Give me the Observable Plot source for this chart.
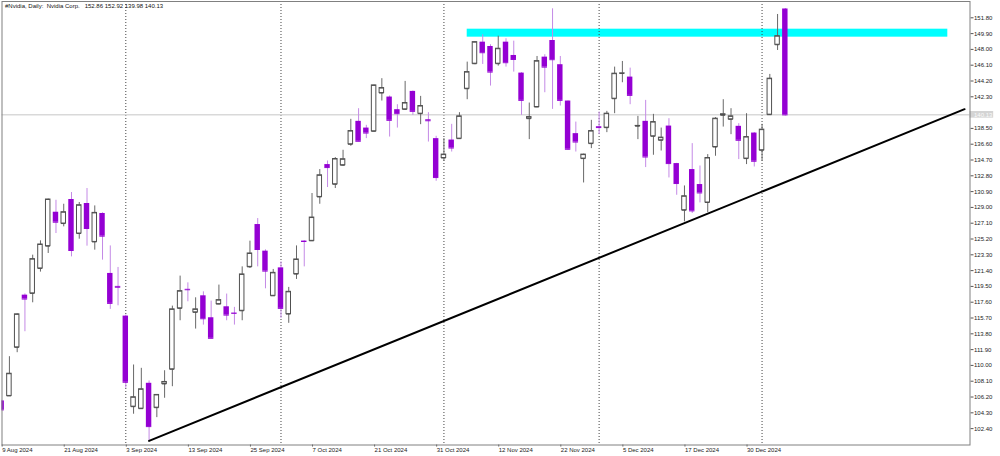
<!DOCTYPE html>
<html><head><meta charset="utf-8">
<script src="https://cdn.jsdelivr.net/npm/d3@7"></script>
<script src="https://cdn.jsdelivr.net/npm/@observablehq/plot@0.6"></script>
<style>
html,body{margin:0;padding:0;background:#fff;overflow:hidden;}
#chart svg{display:block;}
</style></head><body><div id="chart"></div>
<script>
// ---- data ----
const title = "#Nvidia, Daily:\u00a0\u00a0Nvidia Corp.\u00a0\u00a0\u00a0152.86 152.92 139.98 140.13";
const openP = [105.73,106.33,112.17,118.45,118.66,121.66,124.34,128.42,127.06,129.95,
  125.86,129.47,124.85,128.27,121.06,119.5,115.93,105.04,104.8,107.85,
  104.92,107.77,109.53,116.86,119.15,116.38,118.37,115.73,117.37,117.05,
  116.3,116.57,121.85,126.94,123.74,118.37,121.73,116.17,120.98,124.95,
  124.98,130.26,134.15,131.78,134.07,136.59,139.35,138.54,138.15,142.75,
  142.27,140.75,140.79,142.95,140.27,139.54,137.27,134.94,137.1,137.27,
  143.27,146.28,148.87,148.35,146.28,148.87,147.27,145.15,139.67,141.07,
  147.07,149.07,146.16,141.79,137.87,134.87,136.67,138.7,138.59,142.07,
  145.1,144.67,138.78,139.35,137.55,137.07,138.78,134.27,128.66,133.55,
  131.75,129.59,136.26,140.08,139.59,138.75,134.87,137.94,135.87,140.15,
  148.56,152.86];
const highP = [105.8,111.05,116.2,118.6,123.26,124.98,130.0,129.86,129.38,130.79,
  129.59,131.27,129.18,128.35,124.37,121.78,116.05,110.05,109.65,108.13,
  106.5,109.36,117.13,120.74,119.93,118.13,118.85,117.73,119.66,118.58,
  116.98,121.85,124.94,127.66,123.9,121.54,122.45,119.38,124.37,125.0,
  130.67,133.55,134.58,134.99,135.87,139.59,140.87,138.87,143.7,144.48,
  142.4,141.35,144.15,143.0,142.35,140.39,137.55,137.27,138.99,140.39,
  146.47,148.9,149.76,148.56,149.59,149.28,148.99,145.2,141.55,147.15,
  147.36,152.88,147.15,141.8,139.26,135.4,139.47,140.47,140.55,145.87,
  146.55,145.75,139.95,141.87,140.19,138.54,139.67,134.3,131.58,136.67,
  133.98,135.35,139.79,141.95,140.87,139.07,140.27,138.0,138.99,144.99,
  152.2,152.92];
const lowP = [104.6,106.3,111.53,114.05,117.53,121.22,123.46,125.86,126.66,123.05,
  125.18,124.34,123.86,122.66,116.74,117.17,107.25,104.13,104.75,100.9,
  103.72,106.05,107.44,115.37,117.65,114.37,114.85,113.2,117.3,115.37,
  114.85,115.37,121.66,121.85,119.21,118.3,115.66,115.06,120.34,121.85,
  124.9,129.38,131.39,131.27,133.95,136.35,136.9,137.27,138.1,141.79,
  137.46,138.54,140.67,140.07,138.95,136.86,132.14,134.54,135.66,137.2,
  141.95,146.16,146.19,143.59,145.99,145.87,145.27,140.07,137.15,141.0,
  142.79,140.79,141.19,135.87,135.66,131.94,136.07,137.75,137.99,140.27,
  143.99,141.35,137.15,133.79,135.27,135.78,132.54,130.46,127.26,128.27,
  129.54,128.38,135.15,138.66,137.75,134.75,134.15,133.86,134.55,140.1,
  147.87,139.98];
const closeP = [104.65,109.0,116.14,117.98,122.78,124.54,129.95,127.22,128.42,123.82,
  129.26,126.46,128.34,125.54,117.46,119.4,107.97,106.17,107.13,102.64,
  106.45,108.01,116.74,118.93,119.1,116.74,115.61,113.26,117.85,116.05,
  116.26,120.94,123.46,123.94,121.34,121.13,116.86,118.85,122.74,124.9,
  127.78,132.86,133.79,134.82,134.79,138.18,136.95,137.94,143.67,143.35,
  139.47,140.27,141.55,140.55,141.19,139.42,132.59,135.35,136.14,139.95,
  145.27,148.87,147.6,145.27,148.08,146.4,146.79,141.87,139.86,146.59,
  145.87,146.76,141.87,135.99,136.86,135.35,138.18,138.6,140.27,145.08,
  145.12,142.47,138.8,135.06,139.26,137.39,134.27,131.87,130.34,128.58,
  130.74,134.94,139.67,140.2,139.95,137.07,137.46,134.55,138.35,144.48,
  149.59,140.13];
const dateLabels = ["9 Aug 2024","21 Aug 2024","3 Sep 2024","13 Sep 2024","25 Sep 2024","7 Oct 2024",
  "21 Oct 2024","31 Oct 2024","12 Nov 2024","22 Nov 2024","5 Dec 2024","17 Dec 2024","30 Dec 2024"];
const dateLabelIdx = [0,8,16,24,32,40,48,56,64,72,80,88,96];
const monthSepIdx = [16,36,57,77,98];
const yTicks = d3.range(27).map(k => +(102.4 + 1.9 * k).toFixed(2));
const trendIdx = [19, 124.1];
const trendPrice = [100.93, 140.81];
const zoneIdx = [60, 121.94];
const zonePrice = [149.47, 150.43];

// ---- derived tables ----
const candles = openP.map((o, i) => ({i, o, h: highP[i], l: lowP[i], c: closeP[i], up: closeP[i] >= o}));
const bull = candles.filter(d => d.up);
const bear = candles.filter(d => !d.up);
const trend = trendIdx.map((x, k) => ({x, p: trendPrice[k]}));
const zone = [{x1: zoneIdx[0], x2: zoneIdx[1], y1: zonePrice[0], y2: zonePrice[1]}];
const last = candles[candles.length - 1];
// the current-price box hides the tick label that falls under it
const yTickFmt = d => Math.abs(d - last.c) < 0.95 ? "" : d3.format(".2f")(d);

const xDomain = [0.044, 124.8];
const yDomain = [100.43, 153.76];
const BEAR = "#9400d3", BEARWICK = "#c48ae6", BULLEDGE = "#505050", BULLWICK = "#686868";
const wb = 0.29, wr = 0.35;

const chart = Plot.plot({
  width: 1000, height: 456,
  marginLeft: 1.5, marginRight: 30.5, marginTop: 1, marginBottom: 11.5,
  style: {fontFamily: "Liberation Sans, Arial, sans-serif", fontSize: "6px", background: "#fff", color: "#111"},
  x: {type: "linear", domain: xDomain},
  y: {type: "linear", domain: yDomain},
  marks: [
    Plot.rect(zone, {x1: "x1", x2: "x2", y1: "y1", y2: "y2", fill: "#00ffff"}),
    Plot.ruleX(monthSepIdx, {stroke: "#444", strokeDasharray: "1,2", strokeWidth: 1}),
    Plot.ruleY([last.c], {stroke: "#d9d9d9", strokeWidth: 1.5}),
    // wicks
    Plot.ruleX(bear, {x: "i", y1: "l", y2: "h", stroke: BEARWICK, strokeWidth: 1, clip: true}),
    Plot.ruleX(bull, {x: "i", y1: "l", y2: "h", stroke: BULLWICK, strokeWidth: 1, clip: true}),
    // bodies
    Plot.rect(bull, {x1: d => d.i - wb, x2: d => d.i + wb, y1: "o", y2: "c", fill: "#fff", stroke: BULLEDGE, strokeWidth: 1, clip: true}),
    Plot.ruleY(bull, {y: "c", x1: d => d.i - wb, x2: d => d.i + wb, stroke: BULLEDGE, strokeWidth: 1, clip: true}),
    Plot.ruleY(bull, {y: "o", x1: d => d.i - wb, x2: d => d.i + wb, stroke: BULLEDGE, strokeWidth: 1, clip: true}),
    Plot.rect(bear, {x1: d => d.i - wr, x2: d => d.i + wr, y1: "o", y2: "c", fill: BEAR, clip: true}),
    Plot.ruleY(bear, {y: "c", x1: d => d.i - wr, x2: d => d.i + wr, stroke: BEAR, strokeWidth: 1, clip: true}),
    // trend line
    Plot.line(trend, {x: "x", y: "p", stroke: "#000", strokeWidth: 2}),
    // axes
    Plot.axisY({ticks: yTicks, anchor: "right", tickSize: 3, tickPadding: 1, tickFormat: yTickFmt, fontSize: 6, stroke: "#555", fill: "#222"}),
    Plot.axisX({ticks: dateLabelIdx, anchor: "bottom", tickSize: 2, tickPadding: 1, textAnchor: "start", dx: 0.5,
      tickFormat: d => dateLabels[dateLabelIdx.indexOf(d)], fontSize: 6, stroke: "#555", fill: "#222"}),
    // current price label
    Plot.rect([last], {x1: () => xDomain[1], x2: () => xDomain[1] + 3.05, y1: d => d.c - 0.4, y2: d => d.c + 0.4, fill: "#d4d4d4"}),
    Plot.text([last], {x: () => xDomain[1], y: "c", text: d => d.c.toFixed(2), textAnchor: "start", dx: 4, fill: "#fafafa", fontSize: 6}),
    // header
    Plot.text([title], {frameAnchor: "top-left", text: d => d, dx: 3, dy: 2, fontSize: 6, fill: "#111"}),
    Plot.frame({stroke: "#808080"})
  ]
});
document.getElementById("chart").append(chart);
</script>
</body></html>
